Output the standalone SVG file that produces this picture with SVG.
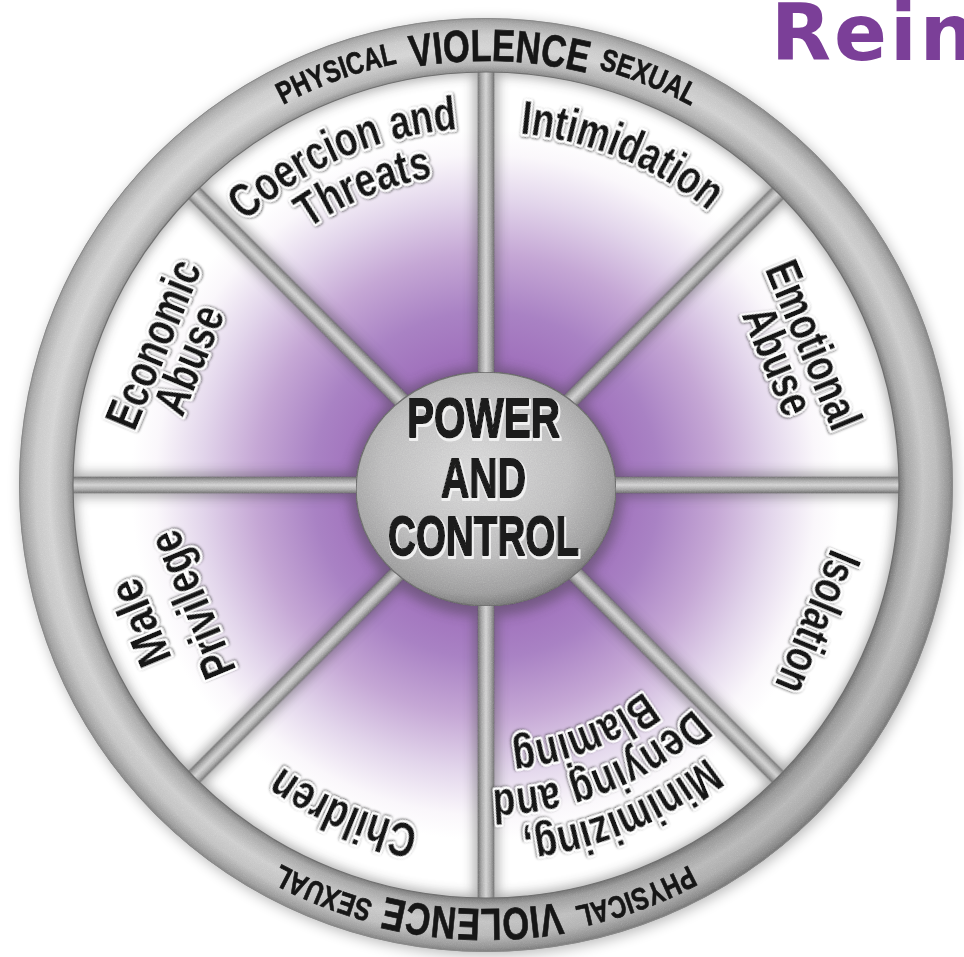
<svg xmlns="http://www.w3.org/2000/svg" width="964" height="957" viewBox="0 0 964 957">
<style>
.lbl{font-family:"Liberation Sans",Arial,sans-serif;font-size:48px;font-weight:bold;fill:#141414;stroke:#fff;stroke-width:5px;stroke-linejoin:round;paint-order:stroke fill;filter:url(#halo)}
.rim-txt{font-family:"Liberation Sans",Arial,sans-serif;font-weight:bold;fill:#161616;stroke:#161616;stroke-width:0.7px}
.rim-sm{font-size:31px}
.rim-lg{font-size:45px}
.hub-txt{font-family:"Liberation Sans",Arial,sans-serif;font-size:56px;font-weight:bold;fill:#1c1c1c;stroke:#1c1c1c;stroke-width:1.8px;stroke-linejoin:round;filter:url(#emboss)}
.seg{fill:url(#segFill)}
.spoke{fill:url(#spokeFill)}
.metal{filter:url(#grain)}
.brand{font-family:"DejaVu Sans",Verdana,sans-serif;font-weight:bold;font-size:78px;fill:#7b3f98;letter-spacing:3px}
</style>
<defs>
  <radialGradient id="segFill" gradientUnits="userSpaceOnUse" cx="486" cy="485" r="413">
    <stop offset="0.28" stop-color="#9e6dba"/>
    <stop offset="0.42" stop-color="#a982c4"/>
    <stop offset="0.56" stop-color="#c5a7d5"/>
    <stop offset="0.69" stop-color="#e2d5eb"/>
    <stop offset="0.8" stop-color="#faf7fb"/>
    <stop offset="0.86" stop-color="#ffffff"/>
    <stop offset="1" stop-color="#ffffff"/>
  </radialGradient>
  <linearGradient id="spokeFill" x1="0" y1="0" x2="1" y2="0">
    <stop offset="0" stop-color="#7c7c7c"/>
    <stop offset="0.25" stop-color="#b6b6b6"/>
    <stop offset="0.5" stop-color="#d9d9d9"/>
    <stop offset="0.75" stop-color="#b3b3b3"/>
    <stop offset="1" stop-color="#787878"/>
  </linearGradient>
  <radialGradient id="rimFill" gradientUnits="userSpaceOnUse" cx="486" cy="485" r="467">
    <stop offset="0.884" stop-color="#858585"/>
    <stop offset="0.9" stop-color="#b2b2b2"/>
    <stop offset="0.935" stop-color="#d5d5d5"/>
    <stop offset="0.965" stop-color="#cacaca"/>
    <stop offset="0.99" stop-color="#a6a6a6"/>
    <stop offset="1" stop-color="#8c8c8c"/>
  </radialGradient>
  <linearGradient id="rimLight" gradientUnits="userSpaceOnUse" x1="150" y1="120" x2="830" y2="860">
    <stop offset="0" stop-color="#ffffff" stop-opacity="0.2"/>
    <stop offset="0.5" stop-color="#ffffff" stop-opacity="0"/>
    <stop offset="1" stop-color="#000000" stop-opacity="0.14"/>
  </linearGradient>
  <radialGradient id="hubFill" cx="0.46" cy="0.42" r="0.6">
    <stop offset="0" stop-color="#e0e0e0"/>
    <stop offset="0.6" stop-color="#c6c6c6"/>
    <stop offset="0.88" stop-color="#a8a8a8"/>
    <stop offset="1" stop-color="#808080"/>
  </radialGradient>
  <filter id="halo" x="-10%" y="-30%" width="120%" height="160%">
    <feDropShadow dx="0.6" dy="0.8" stdDeviation="0.8" flood-color="#333" flood-opacity="0.85"/>
  </filter>
  <!-- pressed-in lettering: light edge below and right of each glyph -->
  <filter id="emboss" x="-5%" y="-10%" width="110%" height="130%">
    <feMorphology in="SourceAlpha" operator="dilate" radius="1" result="d"/>
    <feOffset in="d" dx="1" dy="1.5" result="o"/>
    <feFlood flood-color="#f0f0f0"/>
    <feComposite in2="o" operator="in" result="hi"/>
    <feMerge><feMergeNode in="hi"/><feMergeNode in="SourceGraphic"/></feMerge>
  </filter>
  <filter id="soft" x="-10%" y="-10%" width="120%" height="120%">
    <feGaussianBlur stdDeviation="6"/>
  </filter>
  <filter id="outer" x="-10%" y="-10%" width="120%" height="120%">
    <feGaussianBlur stdDeviation="7"/>
  </filter>
  <!-- brushed-metal grain -->
  <filter id="grain" x="0" y="0" width="100%" height="100%">
    <feTurbulence type="fractalNoise" baseFrequency="0.85" numOctaves="2" seed="4" result="n"/>
    <feColorMatrix in="n" type="saturate" values="0" result="ng"/>
    <feComposite in="SourceGraphic" in2="ng" operator="arithmetic" k1="0" k2="1" k3="0.16" k4="-0.08" result="mix"/>
    <feComposite in="mix" in2="SourceGraphic" operator="in"/>
  </filter>
  <clipPath id="disk"><circle cx="486" cy="485" r="414"/></clipPath>
  <!-- arcs centred on the top of the wheel, drawn clockwise, for curved labels -->
  <path id="a353" d="M133 485 A353 353 0 0 1 839 485"/>
  <path id="a357" d="M129 485 A357 357 0 0 1 843 485"/>
  <path id="a312" d="M174 485 A312 312 0 0 1 798 485"/>
  <path id="a350" d="M136 485 A350 350 0 0 1 836 485"/>
  <path id="a305" d="M181 485 A305 305 0 0 1 791 485"/>
  <path id="a260" d="M226 485 A260 260 0 0 1 746 485"/>
  <path id="a348" d="M138 485 A348 348 0 0 1 834 485"/>
  <path id="a431" d="M55 485 A431 431 0 0 1 917 485"/>
  <path id="a424" d="M62 485 A424 424 0 0 1 910 485"/>
</defs>

<rect width="964" height="957" fill="#ffffff"/>

<!-- brand word, top right -->
<text class="brand" x="771" y="60">Rein</text>

<!-- soft shadow under the wheel -->
<circle cx="488" cy="488" r="467" fill="#000" opacity="0.28" filter="url(#outer)"/>

<!-- segments -->
<g id="seg-intimidation"><path class="seg" d="M486 485 L486 65 A420 420 0 0 1 782.98 188.02 Z"/></g>
<g id="seg-emotional"><path class="seg" d="M486 485 L782.98 188.02 A420 420 0 0 1 906 485 Z"/></g>
<g id="seg-isolation"><path class="seg" d="M486 485 L906 485 A420 420 0 0 1 782.98 781.98 Z"/></g>
<g id="seg-minimizing"><path class="seg" d="M486 485 L782.98 781.98 A420 420 0 0 1 486 905 Z"/></g>
<g id="seg-children"><path class="seg" d="M486 485 L486 905 A420 420 0 0 1 189.02 781.98 Z"/></g>
<g id="seg-male"><path class="seg" d="M486 485 L189.02 781.98 A420 420 0 0 1 66 485 Z"/></g>
<g id="seg-economic"><path class="seg" d="M486 485 L66 485 A420 420 0 0 1 189.02 188.02 Z"/></g>
<g id="seg-coercion"><path class="seg" d="M486 485 L189.02 188.02 A420 420 0 0 1 486 65 Z"/></g>

<!-- recessed shading cast by rim, spokes and hub -->
<g clip-path="url(#disk)">
  <g opacity="0.42" filter="url(#soft)" fill="#3a3a3a">
    <circle cx="486" cy="485" r="418" fill="none" stroke="#3a3a3a" stroke-width="16"/>
    <rect x="474" y="60" width="24" height="330"/>
    <rect x="474" y="60" width="24" height="330" transform="rotate(45 486 485)"/>
    <rect x="474" y="60" width="24" height="330" transform="rotate(90 486 485)"/>
    <rect x="474" y="60" width="24" height="330" transform="rotate(135 486 485)"/>
    <rect x="474" y="60" width="24" height="330" transform="rotate(180 486 485)"/>
    <rect x="474" y="60" width="24" height="330" transform="rotate(225 486 485)"/>
    <rect x="474" y="60" width="24" height="330" transform="rotate(270 486 485)"/>
    <rect x="474" y="60" width="24" height="330" transform="rotate(315 486 485)"/>
    <ellipse cx="486" cy="492" rx="137" ry="125"/>
  </g>
</g>

<!-- spokes -->
<g id="spokes" class="metal">
  <rect class="spoke" x="477.5" y="66" width="17" height="310"/>
  <rect class="spoke" x="477.5" y="66" width="17" height="310" transform="rotate(45 486 485)"/>
  <rect class="spoke" x="477.5" y="66" width="17" height="310" transform="rotate(90 486 485)"/>
  <rect class="spoke" x="477.5" y="66" width="17" height="310" transform="rotate(135 486 485)"/>
  <rect class="spoke" x="477.5" y="66" width="17" height="310" transform="rotate(180 486 485)"/>
  <rect class="spoke" x="477.5" y="66" width="17" height="310" transform="rotate(225 486 485)"/>
  <rect class="spoke" x="477.5" y="66" width="17" height="310" transform="rotate(270 486 485)"/>
  <rect class="spoke" x="477.5" y="66" width="17" height="310" transform="rotate(315 486 485)"/>
</g>

<!-- outer rim with its lettering -->
<g id="rim">
  <g class="metal">
    <path fill="url(#rimFill)" fill-rule="evenodd" d="M19 485 A467 467 0 1 1 953 485 A467 467 0 1 1 19 485 Z M73 485 A413 413 0 1 0 899 485 A413 413 0 1 0 73 485 Z"/>
    <path fill="url(#rimLight)" fill-rule="evenodd" d="M19 485 A467 467 0 1 1 953 485 A467 467 0 1 1 19 485 Z M73 485 A413 413 0 1 0 899 485 A413 413 0 1 0 73 485 Z"/>
  </g>
  <circle cx="486" cy="485" r="413" fill="none" stroke="#6f6f6f" stroke-width="1.2"/>
  <circle cx="486" cy="485" r="466.5" fill="none" stroke="#8a8a8a" stroke-width="1"/>
  <g id="rimTop">
    <text class="rim-txt rim-sm" text-anchor="middle"><textPath href="#a431" startOffset="38.9%" textLength="122" lengthAdjust="spacingAndGlyphs">PHYSICAL</textPath></text>
    <text class="rim-txt rim-lg" text-anchor="middle"><textPath href="#a424" startOffset="51%" textLength="176" lengthAdjust="spacingAndGlyphs">VIOLENCE</textPath></text>
    <text class="rim-txt rim-sm" text-anchor="middle"><textPath href="#a431" startOffset="62.1%" textLength="100" lengthAdjust="spacingAndGlyphs">SEXUAL</textPath></text>
  </g>
  <use href="#rimTop" transform="rotate(180 486 485)"/>
</g>

<!-- hub -->
<g id="hub">
  <ellipse class="metal" cx="486" cy="489" rx="130" ry="117" fill="url(#hubFill)" stroke="#7c7c7c" stroke-width="1.5"/>
  <g text-anchor="middle">
    <text class="hub-txt" x="483.5" y="437" textLength="153" lengthAdjust="spacingAndGlyphs">POWER</text>
    <text class="hub-txt" x="483.5" y="497" textLength="85" lengthAdjust="spacingAndGlyphs">AND</text>
    <text class="hub-txt" x="483.5" y="555" textLength="191" lengthAdjust="spacingAndGlyphs">CONTROL</text>
  </g>
</g>

<!-- segment labels -->
<g id="label-intimidation" transform="rotate(22.3 486 485)">
  <text class="lbl" text-anchor="middle"><textPath href="#a353" startOffset="50%" textLength="207" lengthAdjust="spacingAndGlyphs">Intimidation</textPath></text>
</g>
<g id="label-emotional" transform="rotate(67.5 486 485)" text-anchor="middle">
  <text class="lbl" x="482" y="145" textLength="178" lengthAdjust="spacingAndGlyphs">Emotional</text>
  <text class="lbl" x="483" y="184" textLength="113" lengthAdjust="spacingAndGlyphs">Abuse</text>
</g>
<g id="label-isolation" transform="rotate(112.5 486 485)" text-anchor="middle">
  <text class="lbl" x="486" y="142" textLength="149" lengthAdjust="spacingAndGlyphs">Isolation</text>
</g>
<g id="label-minimizing" text-anchor="middle">
  <text class="lbl" transform="rotate(157.5 486 485)"><textPath href="#a350" startOffset="50%" textLength="202" lengthAdjust="spacingAndGlyphs">Minimizing,</textPath></text>
  <text class="lbl" transform="rotate(158 486 485)"><textPath href="#a305" startOffset="50%" textLength="222" lengthAdjust="spacingAndGlyphs">Denying and</textPath></text>
  <text class="lbl" transform="rotate(158.5 486 485)"><textPath href="#a260" startOffset="50%" textLength="145" lengthAdjust="spacingAndGlyphs">Blaming</textPath></text>
</g>
<g id="label-children" transform="rotate(203.5 486 485)">
  <text class="lbl" text-anchor="middle"><textPath href="#a348" startOffset="50%" textLength="150" lengthAdjust="spacingAndGlyphs">Children</textPath></text>
</g>
<g id="label-male" transform="rotate(247.5 486 485)" text-anchor="middle">
  <text class="lbl" x="491" y="129" textLength="90" lengthAdjust="spacingAndGlyphs">Male</text>
  <text class="lbl" x="488" y="184" textLength="155" lengthAdjust="spacingAndGlyphs">Privilege</text>
</g>
<g id="label-economic" transform="rotate(292.5 486 485)" text-anchor="middle">
  <text class="lbl" x="489" y="140" textLength="178" lengthAdjust="spacingAndGlyphs">Economic</text>
  <text class="lbl" x="488" y="179" textLength="113" lengthAdjust="spacingAndGlyphs">Abuse</text>
</g>
<g id="label-coercion" text-anchor="middle">
  <text class="lbl" transform="rotate(-23.5 486 485)"><textPath href="#a357" startOffset="50%" textLength="236" lengthAdjust="spacingAndGlyphs">Coercion and</textPath></text>
  <text class="lbl" transform="rotate(-22.3 486 485)"><textPath href="#a312" startOffset="50%" textLength="136" lengthAdjust="spacingAndGlyphs">Threats</textPath></text>
</g>
</svg>
